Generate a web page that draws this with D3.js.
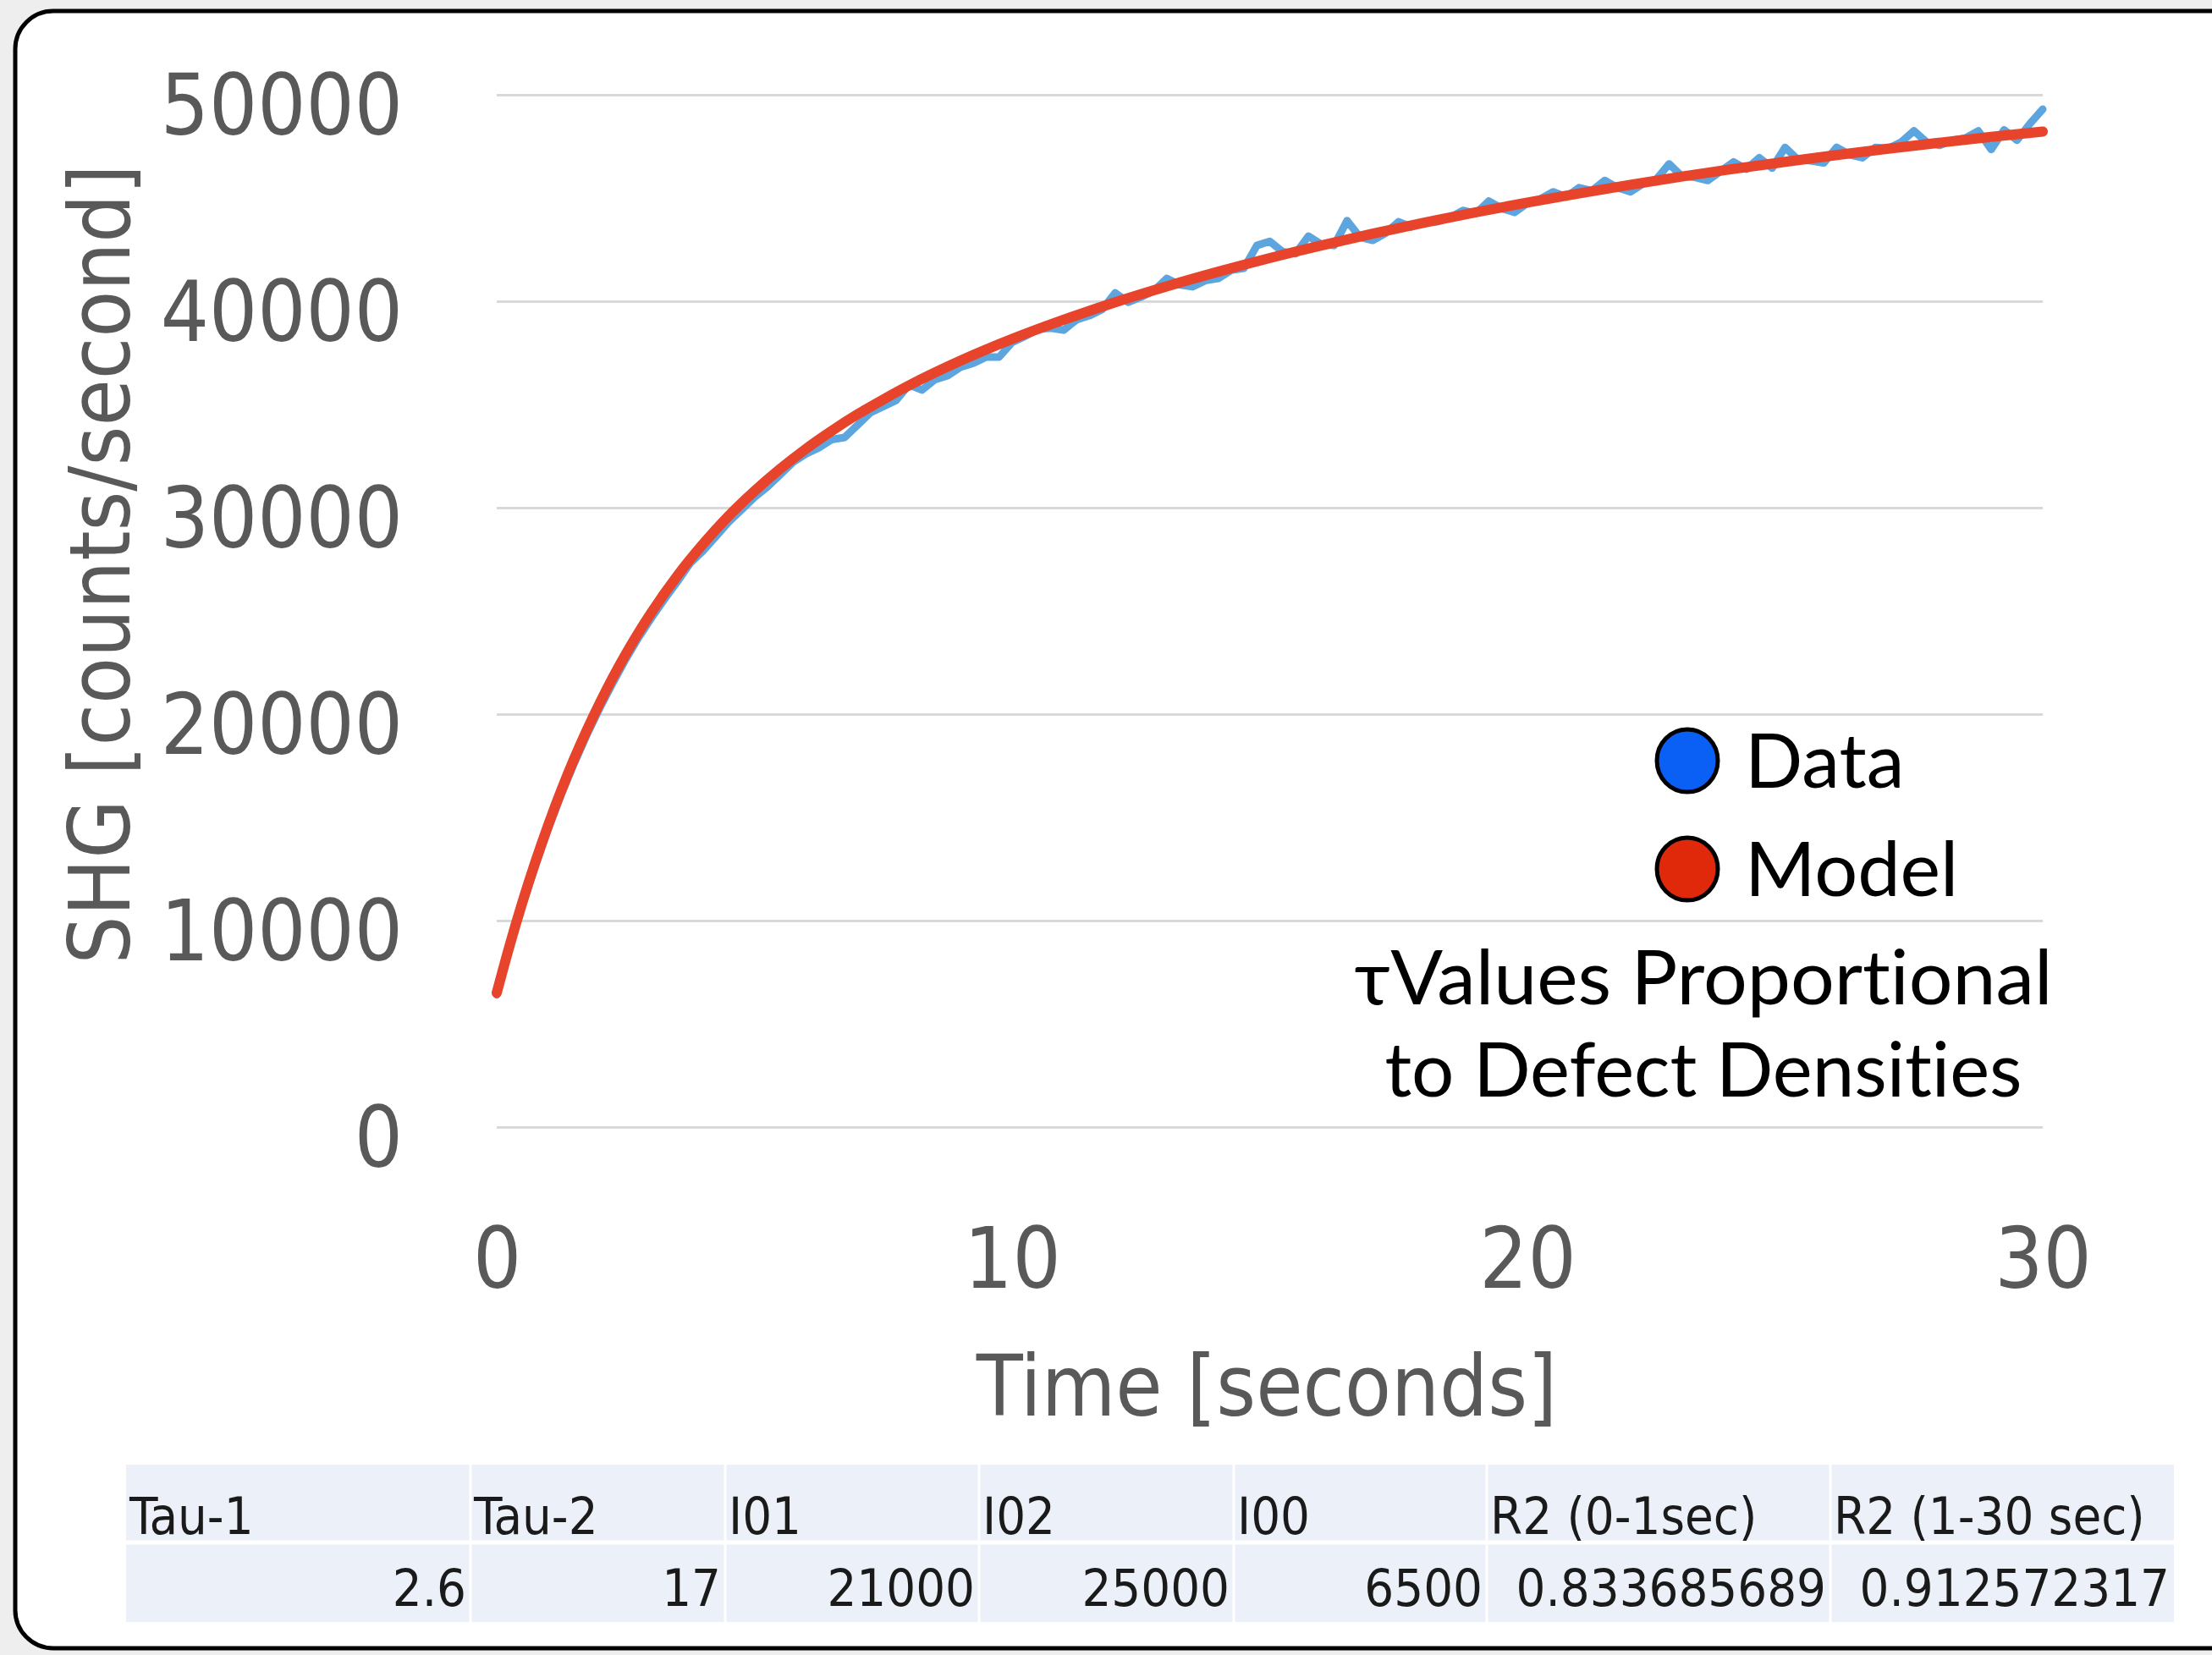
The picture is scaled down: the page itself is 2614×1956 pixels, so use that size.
<!DOCTYPE html>
<html>
<head>
<meta charset="utf-8">
<script src="https://cdn.jsdelivr.net/npm/d3@7/dist/d3.min.js"></script>
<style>
  html, body { margin: 0; padding: 0; background: #eeeeee; }
  svg { display: block; }
  text { font-variant-ligatures: none; font-feature-settings: "liga" 0, "clig" 0; }
</style>
</head>
<body>
<svg id="chart" width="2614" height="1956"></svg>
<script>
// ---------- data ----------
const dataTime = [0,0.25,0.5,0.75,1,1.25,1.5,1.75,2,2.25,2.5,2.75,3,3.25,3.5,3.75,4,4.25,4.5,4.75,
  5,5.25,5.5,5.75,6,6.25,6.5,6.75,7,7.25,7.5,7.75,8,8.25,8.5,8.75,9,9.25,9.5,9.75,
  10,10.25,10.5,10.75,11,11.25,11.5,11.75,12,12.25,12.5,12.75,13,13.25,13.5,13.75,14,14.25,14.5,14.75,
  15,15.25,15.5,15.75,16,16.25,16.5,16.75,17,17.25,17.5,17.75,18,18.25,18.5,18.75,19,19.25,19.5,19.75,
  20,20.25,20.5,20.75,21,21.25,21.5,21.75,22,22.25,22.5,22.75,23,23.25,23.5,23.75,24,24.25,24.5,24.75,
  25,25.25,25.5,25.75,26,26.25,26.5,26.75,27,27.25,27.5,27.75,28,28.25,28.5,28.75,29,29.25,29.5,29.75,30];
const dataValues = [6400,8700,10750,12650,14450,16100,17600,19000,20300,21500,22650,23700,24650,25550,26400,27300,27900,28600,29300,29900,
  30500,31000,31600,32200,32600,32900,33300,33400,34000,34600,34900,35200,35950,35700,36200,36400,36800,37000,37300,37300,
  38000,38300,38650,38700,38600,39100,39300,39600,40400,39950,40200,40500,41100,40800,40700,41000,41100,41500,41600,42700,
  42900,42400,42300,43150,42750,42700,43900,43100,42950,43300,43850,43600,43850,43850,44050,44400,44250,44850,44500,44300,
  44750,44950,45300,45050,45500,45350,45850,45500,45300,45700,45900,46650,46050,46000,45850,46300,46750,46400,46950,46450,
  47450,46850,46800,46700,47450,47100,46950,47450,47400,47700,48250,47700,47550,47800,47900,48250,47350,48300,47800,48600,49300];

const modelTime = [0,0.25,0.5,0.75,1,1.25,1.5,1.75,2,2.25,2.5,2.75,3,3.5,4,4.5,5,5.5,6,6.5,7,7.5,8,
  9,10,11,12,13,14,15,16,17,18,19,20,21,22,23,24,25,26,27,28,29,30];
const modelValues = [6500,8790,10900,12840,14630,16290,17820,19230,20540,21760,22890,23940,24920,26690,28230,29600,30800,31880,32850,33720,34520,35240,35920,
  37120,38170,39100,39950,40720,41430,42090,42700,43270,43810,44310,44780,45220,45640,46040,46410,46750,47080,47390,47680,47960,48220];

const yTicks = [0,10000,20000,30000,40000,50000];
const xTicks = [0,10,20,30];
const legendLabels = ["Data","Model"];
const noteLines = ["\u03C4Values Proportional","to Defect Densities"];
const tableHeaders = ["Tau-1","Tau-2","I01","I02","I00","R2 (0-1sec)","R2 (1-30 sec)"];
const tableValues = ["2.6","17","21000","25000","6500","0.833685689","0.912572317"];

// ---------- layout ----------
const svg = d3.select("#chart");
const tickFont = "'DejaVu Sans Condensed','DejaVu Sans',sans-serif";
const grey = "#595959";

// panel frame
svg.append("rect").attr("x",18).attr("y",13).attr("width",2700).attr("height",1935)
  .attr("rx",45).attr("ry",45).attr("fill","#ffffff").attr("stroke","#000").attr("stroke-width",5);

const x = d3.scaleLinear().domain([0,30]).range([587,2414]);
const y = d3.scaleLinear().domain([0,50000]).range([1332,112]);

// y axis with gridlines
const yAxis = d3.axisLeft(y).tickValues(yTicks).tickFormat(d3.format("d"))
  .tickSize(-(x(30)-x(0))).tickPadding(111);
const gy = svg.append("g").attr("transform",`translate(${x(0)},0)`).call(yAxis);
gy.select(".domain").remove();
gy.selectAll(".tick line").attr("stroke","#d9d9d9").attr("stroke-width",3);
gy.selectAll(".tick text").attr("dy",null).attr("y",46)
  .attr("font-family",tickFont).attr("font-size",100).attr("fill",grey);

// x axis
const xAxis = d3.axisBottom(x).tickValues(xTicks).tickFormat(d3.format("d")).tickSize(0).tickPadding(0);
const gx = svg.append("g").attr("transform",`translate(0,${y(0)})`).call(xAxis);
gx.select(".domain").remove();
gx.selectAll(".tick text").attr("dy",null).attr("y",190)
  .attr("font-family",tickFont).attr("font-size",100).attr("fill",grey);

// axis titles
svg.append("text").attr("x",1497).attr("y",1673).attr("text-anchor","middle")
  .attr("font-family",tickFont).attr("font-size",100).attr("fill",grey).text("Time [seconds]");
svg.append("text").attr("transform","translate(153,667) rotate(-90)").attr("text-anchor","middle")
  .attr("font-family",tickFont).attr("font-size",100).attr("fill",grey).text("SHG [counts/second]");

// lines
const dataPts = dataTime.map((t,i)=>[t,dataValues[i]]);
const modelPts = modelTime.map((t,i)=>[t,modelValues[i]]);
svg.append("path").datum(dataPts)
  .attr("d", d3.line().x(d=>x(d[0])).y(d=>y(d[1])).curve(d3.curveLinear))
  .attr("fill","none").attr("stroke","#5ca5de").attr("stroke-width",9)
  .attr("stroke-linejoin","round").attr("stroke-linecap","round");
svg.append("path").datum(modelPts)
  .attr("d", d3.line().x(d=>x(d[0])).y(d=>y(d[1])).curve(d3.curveMonotoneX))
  .attr("fill","none").attr("stroke","#e8432b").attr("stroke-width",12)
  .attr("stroke-linejoin","round").attr("stroke-linecap","round");

// legend
const legFont = "Lato, 'Noto Sans', sans-serif";
const legColors = ["#0a60f4","#e0290a"];
const legY = [899,1027];
legendLabels.forEach((lab,i)=>{
  svg.append("ellipse").attr("cx",1994).attr("cy",legY[i]).attr("rx",36).attr("ry",37)
    .attr("fill",legColors[i]).attr("stroke","#000").attr("stroke-width",5);
  svg.append("text").attr("x",2062).attr("y",legY[i]+32)
    .attr("font-family",legFont).attr("font-size",90).attr("fill","#000").text(lab);
});
const noteY = [1187,1296];
const noteW = [825,753];
noteLines.forEach((t,i)=>{
  svg.append("text").attr("x",2013).attr("y",noteY[i]).attr("text-anchor","middle")
    .attr("font-family",legFont).attr("font-size",90).attr("fill","#000")
    .attr("textLength",noteW[i]).attr("lengthAdjust","spacingAndGlyphs").text(t);
});

// table
const colEdges = [149,556,857,1157,1458,1757,2163,2569];
const rowTop = 1731, rowMid = 1823, rowBot = 1917;
const tbl = svg.append("g");
tbl.append("rect").attr("x",colEdges[0]).attr("y",rowTop)
  .attr("width",colEdges[7]-colEdges[0]).attr("height",rowBot-rowTop).attr("fill","#ecf0f8");
colEdges.slice(1,-1).forEach(cx=>{
  tbl.append("line").attr("x1",cx).attr("x2",cx).attr("y1",rowTop).attr("y2",rowBot)
    .attr("stroke","#ffffff").attr("stroke-width",3);
});
tbl.append("line").attr("x1",colEdges[0]).attr("x2",colEdges[7]).attr("y1",rowMid).attr("y2",rowMid)
  .attr("stroke","#ffffff").attr("stroke-width",5);
tableHeaders.forEach((h,i)=>{
  tbl.append("text").attr("x",colEdges[i]+4).attr("y",1813)
    .attr("font-family",tickFont).attr("font-size",61).attr("fill","#1a1a1a").text(h);
});
tableValues.forEach((v,i)=>{
  tbl.append("text").attr("x",colEdges[i+1]-5).attr("y",1898).attr("text-anchor","end")
    .attr("font-family",tickFont).attr("font-size",61).attr("fill","#1a1a1a").text(v);
});
</script>
</body>
</html>
